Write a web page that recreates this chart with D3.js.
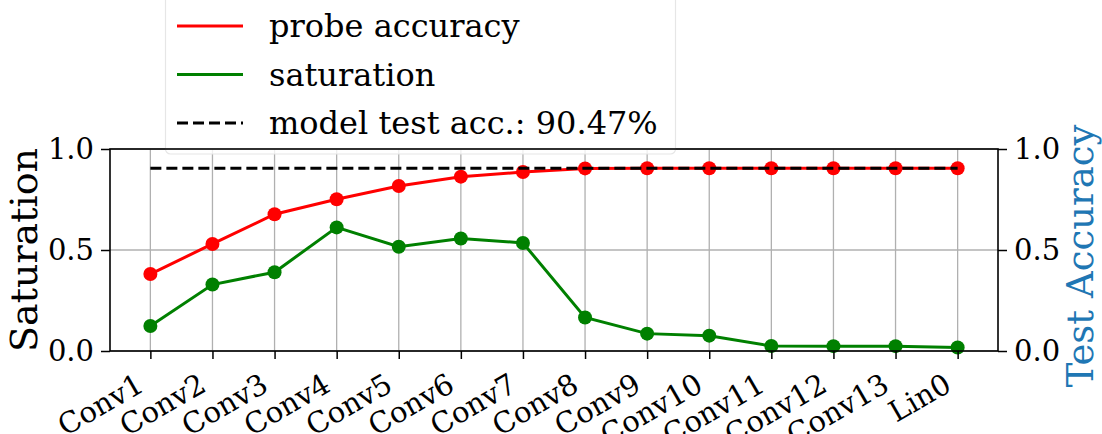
<!DOCTYPE html>
<html>
<head>
<meta charset="utf-8">
<script src="https://cdn.jsdelivr.net/npm/d3@7"></script>
<style>
  body { margin: 0; background: #fff; }
  svg text { font-family: "DejaVu Serif", serif; }
</style>
</head>
<body>
<script>
// layers along the x axis
var layers = ["Conv1", "Conv2", "Conv3", "Conv4", "Conv5", "Conv6", "Conv7",
              "Conv8", "Conv9", "Conv10", "Conv11", "Conv12", "Conv13", "Lin0"];
var probeAccuracy = [0.381, 0.530, 0.677, 0.751, 0.817, 0.863, 0.886,
                     0.904, 0.905, 0.905, 0.905, 0.905, 0.905, 0.905];
var saturation = [0.124, 0.329, 0.390, 0.612, 0.516, 0.557, 0.535,
                  0.166, 0.086, 0.076, 0.025, 0.024, 0.024, 0.017];
var modelTestAcc = 0.9047;
var yTicks = [0, 0.5, 1.0];
var legendLabels = ["probe accuracy", "saturation", "model test acc.: 90.47%"];

var width = 1102, height = 434;
var plotLeft = 110, plotRight = 998, plotTop = 149, plotBottom = 351;

var svg = d3.select("body").append("svg").attr("width", width).attr("height", height);
svg.append("rect").attr("width", width).attr("height", height).attr("fill", "#fff");

var x = d3.scaleLinear().domain([-0.65, layers.length - 1 + 0.65]).range([plotLeft, plotRight]);
var y = d3.scaleLinear().domain([0, 1]).range([plotBottom, plotTop]);
var idx = d3.range(layers.length);

// grid
var grid = svg.append("g").attr("stroke", "#b0b0b0").attr("stroke-width", 1.3);
grid.selectAll("line.v").data(idx).enter().append("line")
    .attr("x1", function (i) { return x(i); }).attr("x2", function (i) { return x(i); })
    .attr("y1", plotTop).attr("y2", plotBottom);
grid.selectAll("line.h").data(yTicks).enter().append("line")
    .attr("x1", plotLeft).attr("x2", plotRight)
    .attr("y1", function (d) { return y(d); }).attr("y2", function (d) { return y(d); });

var line = d3.line().x(function (d, i) { return x(i); }).y(function (d) { return y(d); });

function series(values, color) {
    svg.append("path").datum(values).attr("d", line)
        .attr("fill", "none").attr("stroke", color).attr("stroke-width", 3);
    svg.append("g").selectAll("circle").data(values).enter().append("circle")
        .attr("cx", function (d, i) { return x(i); })
        .attr("cy", function (d) { return y(d); })
        .attr("r", 7).attr("fill", color);
}
series(probeAccuracy, "#ff0000");
series(saturation, "#008000");

svg.append("line")
    .attr("x1", x(0)).attr("x2", x(layers.length - 1))
    .attr("y1", y(modelTestAcc)).attr("y2", y(modelTestAcc))
    .attr("stroke", "#000").attr("stroke-width", 3).attr("stroke-dasharray", "11,5");

// legend
var lg = svg.append("g");
lg.append("rect").attr("x", 165.5).attr("y", -10).attr("width", 510).attr("height", 164)
    .attr("rx", 5).attr("fill", "#fff").attr("fill-opacity", 0.8)
    .attr("stroke", "#e6e6e6").attr("stroke-width", 1.2);
var legendStyles = [
    { color: "#ff0000", dash: null },
    { color: "#008000", dash: null },
    { color: "#000", dash: "11,5" }
];
legendLabels.forEach(function (lab, i) {
    var cy = 26 + i * 48.5;
    lg.append("line").attr("x1", 177).attr("x2", 243).attr("y1", cy).attr("y2", cy)
        .attr("stroke", legendStyles[i].color).attr("stroke-width", 3)
        .attr("stroke-dasharray", legendStyles[i].dash);
    lg.append("text").attr("x", 269).attr("y", cy + 11).attr("font-size", 32)
        .attr("fill", "#000").text(lab);
});

// spines
svg.append("rect").attr("x", plotLeft).attr("y", plotTop).attr("width", plotRight - plotLeft)
    .attr("height", plotBottom - plotTop).attr("fill", "none").attr("stroke", "#000").attr("stroke-width", 1.6);

// axes
var yLeft = d3.axisLeft(y).tickValues(yTicks).tickFormat(d3.format(".1f")).tickSize(9).tickPadding(7);
var yRight = d3.axisRight(y).tickValues(yTicks).tickFormat(d3.format(".1f")).tickSize(9).tickPadding(7);
var xAxis = d3.axisBottom(x).tickValues(idx).tickFormat(function (i) { return layers[i]; }).tickSize(8);

function styleAxis(g) {
    g.select(".domain").remove();
    g.selectAll(".tick line").attr("stroke", "#000").attr("stroke-width", 1.5);
    g.selectAll(".tick text").attr("font-family", "DejaVu Serif").attr("font-size", 29).attr("fill", "#000");
}
svg.append("g").attr("transform", "translate(" + plotLeft + ",0)").call(yLeft).call(styleAxis);
svg.append("g").attr("transform", "translate(" + plotRight + ",0)").call(yRight).call(styleAxis);
var gx = svg.append("g").attr("transform", "translate(0," + plotBottom + ")").call(xAxis).call(styleAxis);
gx.selectAll(".tick text")
    .attr("text-anchor", "end").attr("dy", null).attr("y", null)
    .attr("transform", "translate(-5,39) rotate(-30)");

// axis titles
svg.append("text").attr("transform", "translate(37," + ((plotTop + plotBottom) / 2) + ") rotate(-90)")
    .attr("text-anchor", "middle").attr("font-size", 38).attr("fill", "#000").text("Saturation");
svg.append("text").attr("transform", "translate(1093,256) rotate(-90)")
    .attr("text-anchor", "middle").attr("font-size", 37).attr("fill", "#1f77b4").text("Test Accuracy");
</script>
</body>
</html>
